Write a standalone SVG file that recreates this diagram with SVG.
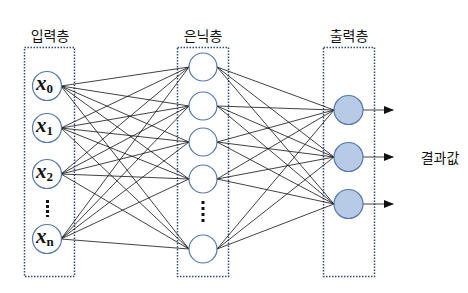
<svg xmlns="http://www.w3.org/2000/svg" width="468" height="293" viewBox="0 0 468 293">
<defs>
<style>
.box{fill:none;stroke:#2E4A75;stroke-width:1.5;stroke-dasharray:1.5,1.5}
.node{fill:#fff;stroke:#5578A8;stroke-width:1.2}
.out{fill:#B7CAE6;stroke:#5578A8;stroke-width:1.2}
.ln{stroke:#111;stroke-width:0.8;fill:none}
.lbl{font-family:"Noto Sans CJK KR","Noto Sans",sans-serif;font-size:14px;fill:#111;text-anchor:middle}
.x{font-family:"Liberation Serif",serif;font-style:italic;font-weight:bold;font-size:21px;fill:#111}
.sub{font-family:"Liberation Serif",serif;font-weight:bold;font-style:normal;font-size:13px}
.dot{fill:#111}
</style>
<marker id="ah" markerWidth="10" markerHeight="8" refX="9" refY="4" orient="auto" markerUnits="userSpaceOnUse">
<path d="M0,0 L10,4 L0,8 Z" fill="#111"/>
</marker>
</defs>
<rect width="468" height="293" fill="#fff"/>
<g id="boxes">
<rect class="box" x="24.5" y="47.5" width="50" height="229"/>
<rect class="box" x="177.5" y="47.5" width="51" height="229"/>
<rect class="box" x="323.5" y="47.5" width="51" height="229"/>
</g>
<g id="labels">
<text class="lbl" x="50" y="41">입력층</text>
<text class="lbl" x="203" y="41">은닉층</text>
<text class="lbl" x="349" y="41">출력층</text>
<text class="lbl" x="440" y="163">결과값</text>
</g>
<g id="connectors">
<g class="ln">
<path d="M61,86 L189,67 M61,86 L189,106 M61,86 L189,142 M61,86 L189,179 M61,86 L189,249"/>
<path d="M61,128 L189,67 M61,128 L189,106 M61,128 L189,142 M61,128 L189,179 M61,128 L189,249"/>
<path d="M61,174 L189,67 M61,174 L189,106 M61,174 L189,142 M61,174 L189,179 M61,174 L189,249"/>
<path d="M61,239 L189,67 M61,239 L189,106 M61,239 L189,142 M61,239 L189,179 M61,239 L189,249"/>
<path d="M217,67 L334,110 M217,67 L334,157 M217,67 L334,204"/>
<path d="M217,106 L334,110 M217,106 L334,157 M217,106 L334,204"/>
<path d="M217,142 L334,110 M217,142 L334,157 M217,142 L334,204"/>
<path d="M217,179 L334,110 M217,179 L334,157 M217,179 L334,204"/>
<path d="M217,249 L334,110 M217,249 L334,157 M217,249 L334,204"/>
<path d="M363,110 L393,110" marker-end="url(#ah)"/>
<path d="M363,157 L393,157" marker-end="url(#ah)"/>
<path d="M363,204 L393,204" marker-end="url(#ah)"/>
</g>
</g>
<g id="input-x0"><circle class="node" cx="47" cy="86" r="14.5"/><text class="x" x="36" y="90">x<tspan class="sub" dy="3">0</tspan></text></g>
<g id="input-x1"><circle class="node" cx="47" cy="128" r="14.5"/><text class="x" x="36" y="132">x<tspan class="sub" dy="3">1</tspan></text></g>
<g id="input-x2"><circle class="node" cx="47" cy="174" r="14.5"/><text class="x" x="36" y="178">x<tspan class="sub" dy="3">2</tspan></text></g>
<g id="input-dots"><rect class="dot" x="46" y="200" width="3" height="3"/><rect class="dot" x="46" y="205" width="3" height="3"/><rect class="dot" x="46" y="210" width="3" height="3"/><rect class="dot" x="46" y="215" width="3" height="2"/></g>
<g id="input-xn"><circle class="node" cx="47" cy="239" r="14.5"/><text class="x" x="36" y="243">x<tspan class="sub" dy="3" font-style="italic">n</tspan></text></g>
<g id="hidden-1"><circle class="node" cx="203" cy="67" r="14"/></g>
<g id="hidden-2"><circle class="node" cx="203" cy="106" r="14"/></g>
<g id="hidden-3"><circle class="node" cx="203" cy="142" r="14"/></g>
<g id="hidden-4"><circle class="node" cx="203" cy="179" r="14"/></g>
<g id="hidden-dots"><rect class="dot" x="201.5" y="201" width="3" height="3"/><rect class="dot" x="201.5" y="207" width="3" height="3"/><rect class="dot" x="201.5" y="213" width="3" height="3"/><rect class="dot" x="201.5" y="219" width="3" height="3"/></g>
<g id="hidden-n"><circle class="node" cx="203" cy="249" r="14"/></g>
<g id="output-1"><circle class="out" cx="348.5" cy="110" r="14.5"/></g>
<g id="output-2"><circle class="out" cx="348.5" cy="157" r="14.5"/></g>
<g id="output-3"><circle class="out" cx="348.5" cy="204" r="14.5"/></g>
</svg>
